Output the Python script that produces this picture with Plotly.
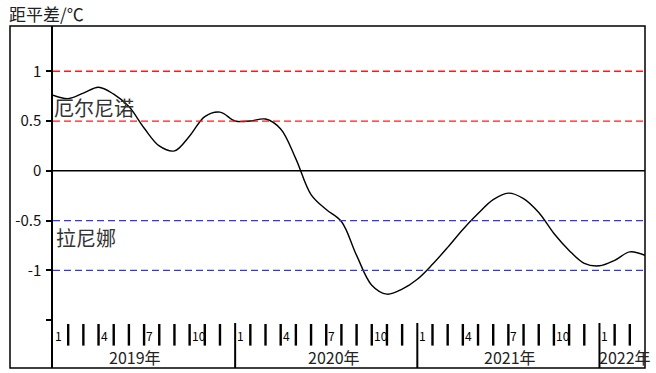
import plotly.graph_objects as go

# Monthly sea-surface temperature anomaly, Jan 2019 .. Apr 2022
months = [f"{y}-{m:02d}" for y in (2019, 2020, 2021) for m in range(1, 13)] + \
         ["2022-01", "2022-02", "2022-03", "2022-04"]
anomaly = [0.76, 0.725, 0.78, 0.84, 0.77, 0.645, 0.43, 0.25, 0.20, 0.35,
           0.545, 0.59, 0.50, 0.50, 0.52, 0.42, 0.12, -0.24, -0.39, -0.51,
           -0.85, -1.15, -1.24, -1.19, -1.09, -0.94, -0.77, -0.59, -0.43, -0.29,
           -0.225, -0.28, -0.42, -0.63, -0.80, -0.93, -0.955, -0.90, -0.815, -0.85]

# Threshold lines: El Nino (red), La Nina (blue)
elnino_levels = [1.0, 0.5]
lanina_levels = [-0.5, -1.0]

ytick_vals = [1, 0.5, 0, -0.5, -1, -1.5]
ytick_text = ["1", "0.5", "0", "-0.5", "-1", ""]

year_labels = ["2019年", "2020年", "2021年", "2022年"]
month_marks = {1: "1", 4: "4", 7: "7", 10: "10"}

FONT = "Noto Sans CJK SC"
W, H = 656, 373
L, R, T, B = 53, 11, 26, 5
plot_w = W - L - R
plot_h = H - T - B

x = list(range(len(months)))
n_span = len(months) - 1

fig = go.Figure()
fig.add_trace(go.Scatter(
    x=x, y=anomaly, mode="lines",
    line=dict(color="black", width=1.4, shape="spline", smoothing=1.0),
    hoverinfo="skip", showlegend=False,
))

shapes = []
# outer frame
shapes.append(dict(type="rect", xref="paper", yref="paper",
                   x0=(10 - L) / plot_w, x1=1, y0=0, y1=1,
                   line=dict(color="black", width=1.5)))
for v in elnino_levels:
    shapes.append(dict(type="line", xref="paper", yref="y", x0=0, x1=1, y0=v, y1=v,
                       line=dict(color="#ff1a1a", width=1.3, dash="7px,4px")))
for v in lanina_levels:
    shapes.append(dict(type="line", xref="paper", yref="y", x0=0, x1=1, y0=v, y1=v,
                       line=dict(color="#3535ee", width=1.3, dash="7px,4px")))
shapes.append(dict(type="line", xref="paper", yref="y", x0=0, x1=1, y0=0, y1=0,
                   line=dict(color="black", width=1.5)))

# month ticks and year separators along the bottom band
for k in range(1, n_span):
    if (k % 12) == 0:
        shapes.append(dict(type="line", xref="x", yref="y", x0=k, x1=k,
                           y0=-1.53, y1=-1.99, line=dict(color="black", width=2)))
    else:
        shapes.append(dict(type="line", xref="x", yref="y", x0=k, x1=k,
                           y0=-1.54, y1=-1.757, line=dict(color="black", width=2.4)))

annotations = []
for k, m in enumerate(months[:-1]):
    mon = int(m[5:])
    if mon in month_marks:
        annotations.append(dict(x=k, y=-1.657, xref="x", yref="y",
                                text=month_marks[mon], showarrow=False,
                                xanchor="left", yanchor="middle", xshift=0,
                                font=dict(family=FONT, size=12, color="black")))

year_pos = [5.4, 18.5, 30.1]
for lbl, pos in zip(year_labels[:3], year_pos):
    annotations.append(dict(x=pos, y=-1.871, xref="x", yref="y", text=lbl,
                            showarrow=False, xanchor="center", yanchor="middle",
                            font=dict(family=FONT, size=16, color="#222")))
annotations.append(dict(x=36.0, y=-1.871, xref="x", yref="y", text=year_labels[3],
                        showarrow=False, xanchor="left", yanchor="middle", xshift=-2,
                        font=dict(family=FONT, size=16, color="#222")))

annotations.append(dict(x=(7 - L) / plot_w, y=1 + (T - 13) / plot_h, xref="paper", yref="paper",
                        text="距平差/℃", showarrow=False, xanchor="left", yanchor="middle",
                        font=dict(family=FONT, size=17, color="#222")))
annotations.append(dict(x=0, y=0.636, xref="x", yref="y", text="厄尔尼诺",
                        showarrow=False, xanchor="left", yanchor="middle", xshift=-1,
                        font=dict(family=FONT, size=20, color="#333")))
annotations.append(dict(x=0, y=-0.667, xref="x", yref="y", text="拉尼娜",
                        showarrow=False, xanchor="left", yanchor="middle", xshift=1,
                        font=dict(family=FONT, size=20, color="#333")))

fig.update_layout(
    width=W, height=H,
    margin=dict(l=L, r=R, t=T, b=B, pad=0),
    paper_bgcolor="white", plot_bgcolor="white",
    shapes=shapes, annotations=annotations,
    xaxis=dict(range=[0, n_span], visible=False, fixedrange=True),
    yaxis=dict(range=[-1.982, 1.455], showgrid=False, zeroline=False,
               showline=True, linecolor="black", linewidth=1.5,
               ticks="outside", ticklen=5, tickwidth=1.5, tickcolor="black",
               tickvals=ytick_vals, ticktext=ytick_text,
               tickfont=dict(family=FONT, size=15, color="#111"),
               ticklabelstandoff=2, fixedrange=True),
    font=dict(family=FONT),
)

fig.write_html("out.html")
